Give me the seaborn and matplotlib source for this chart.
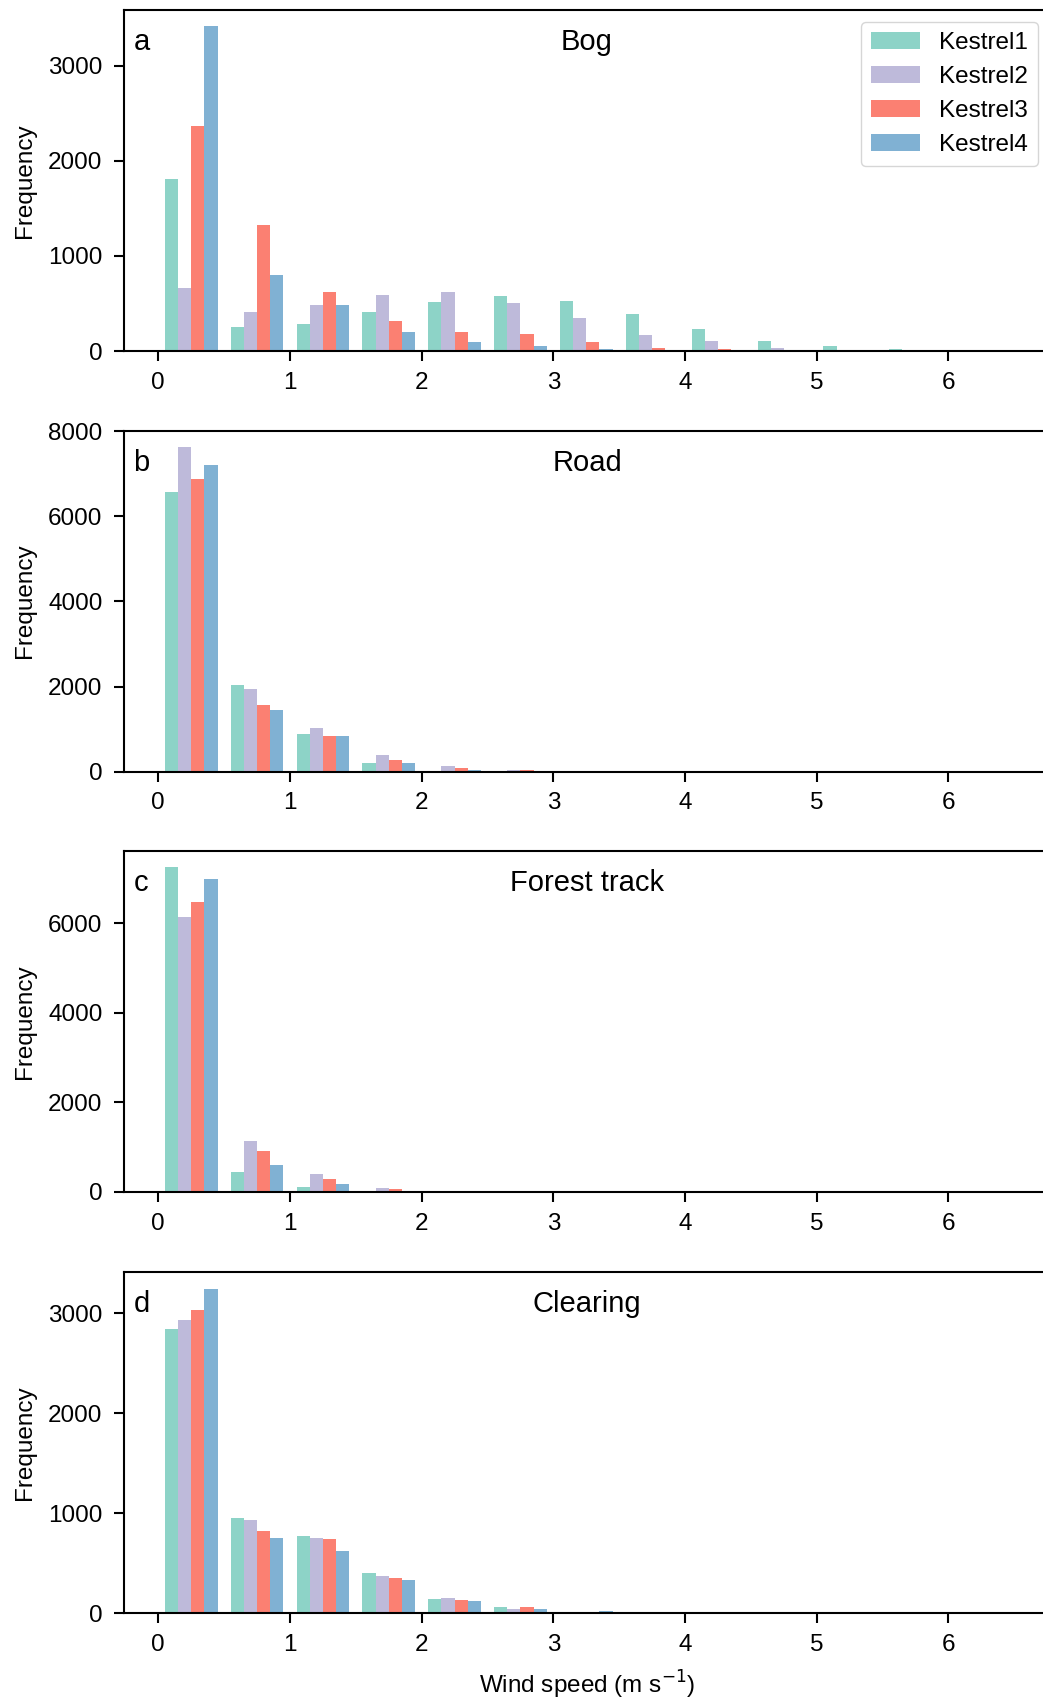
import numpy as np
import pandas as pd
import matplotlib
matplotlib.use("Agg")
import matplotlib.pyplot as plt
import seaborn as sns

# Wind-speed bins (m s-1): width 0.5 from 0 to 6.5
bin_width = 0.5
bin_range = (0.0, 6.5)
bin_centres = np.arange(bin_range[0], bin_range[1], bin_width) + bin_width / 2

sensors = ["Kestrel1", "Kestrel2", "Kestrel3", "Kestrel4"]
colours = ["#8dd3c7", "#bebada", "#fb8072", "#80b1d3"]

# Counts per bin for each sensor at each site
bog_k1 = [1811, 255, 287, 409, 514, 577, 531, 385, 231, 101, 52, 17, 8]
bog_k2 = [661, 409, 486, 591, 622, 507, 346, 171, 101, 31, 10, 3, 0]
bog_k3 = [2364, 1329, 622, 315, 196, 178, 94, 28, 17, 3, 0, 0, 0]
bog_k4 = [3413, 797, 479, 196, 94, 49, 24, 10, 3, 1, 0, 0, 0]

road_k1 = [6563, 2031, 883, 203, 23, 8, 0, 0, 0, 0, 0, 0, 0]
road_k2 = [7633, 1953, 1023, 391, 133, 47, 5, 0, 0, 0, 0, 0, 0]
road_k3 = [6883, 1555, 836, 273, 94, 39, 3, 0, 0, 0, 0, 0, 0]
road_k4 = [7211, 1445, 836, 203, 31, 5, 0, 0, 0, 0, 0, 0, 0]

forest_k1 = [7257, 439, 112, 7, 0, 0, 0, 0, 0, 0, 0, 0, 0]
forest_k2 = [6149, 1138, 394, 82, 15, 0, 0, 0, 0, 0, 0, 0, 0]
forest_k3 = [6476, 907, 290, 59, 15, 0, 0, 0, 0, 0, 0, 0, 0]
forest_k4 = [6996, 602, 178, 22, 3, 0, 0, 0, 0, 0, 0, 0, 0]

clearing_k1 = [2841, 957, 774, 399, 143, 60, 17, 2, 0, 0, 0, 0, 0]
clearing_k2 = [2934, 930, 757, 372, 150, 47, 17, 2, 0, 0, 0, 0, 0]
clearing_k3 = [3033, 827, 741, 352, 133, 60, 10, 8, 0, 0, 0, 0, 0]
clearing_k4 = [3249, 754, 621, 332, 126, 47, 20, 5, 0, 0, 0, 0, 0]

# y tick values per panel
bog_yticks = [0, 1000, 2000, 3000]
road_yticks = [0, 2000, 4000, 6000, 8000]
forest_yticks = [0, 2000, 4000, 6000]
clearing_yticks = [0, 1000, 2000, 3000]

x_ticks = [0, 1, 2, 3, 4, 5, 6]

sites = [
    ("a", "Bog", [bog_k1, bog_k2, bog_k3, bog_k4], bog_yticks),
    ("b", "Road", [road_k1, road_k2, road_k3, road_k4], road_yticks),
    ("c", "Forest track", [forest_k1, forest_k2, forest_k3, forest_k4],
     forest_yticks),
    ("d", "Clearing", [clearing_k1, clearing_k2, clearing_k3, clearing_k4],
     clearing_yticks),
]

sns.set_style("ticks")
plt.rcParams["font.family"] = ["Liberation Sans", "DejaVu Sans"]
for key in ["text.color", "axes.labelcolor", "xtick.color", "ytick.color",
            "axes.edgecolor"]:
    plt.rcParams[key] = "black"
plt.rcParams["axes.linewidth"] = 1.5

fig = plt.figure(figsize=(10.43, 17.0), dpi=100)

# axes placement [left, bottom, width, height] in figure fractions
ax_left, ax_width, ax_height = 0.1189, 0.8878, 0.2006
ax_bottoms = [0.7935, 0.5461, 0.2990, 0.0510]

fs = 17.5
for i, (letter, name, series, yticks) in enumerate(sites):
    ax = fig.add_axes([ax_left, ax_bottoms[i], ax_width, ax_height])
    df = pd.DataFrame({
        "speed": np.tile(bin_centres, len(sensors)),
        "count": np.concatenate(series).astype(float),
        "sensor": np.repeat(sensors, len(bin_centres)),
    })
    sns.histplot(
        data=df, x="speed", weights="count", hue="sensor",
        hue_order=sensors, palette=colours,
        binwidth=bin_width, binrange=bin_range,
        multiple="dodge", shrink=0.8, alpha=1, ax=ax,
        linewidth=0,
        legend=(i == 0),
    )
    ax.set_xlim(-0.2604, 6.771)
    ax.set_xticks(x_ticks)
    ax.set_yticks(yticks)
    ax.tick_params(axis="both", labelsize=fs, length=7, width=1.5)
    ax.tick_params(axis="x", pad=8)
    ax.tick_params(axis="y", pad=8.5)
    ax.set_ylabel("Frequency", fontsize=fs, labelpad=9)
    if i == 3:
        ax.set_xlabel("Wind speed (m s$^{-1}$)", fontsize=fs, labelpad=9)
    else:
        ax.set_xlabel("")
    for side in ["top", "right", "left", "bottom"]:
        ax.spines[side].set_visible(True)
        ax.spines[side].set_linewidth(1.5)
    ax.text(0.01, 0.883, letter, transform=ax.transAxes, fontsize=21,
            ha="left", va="baseline")
    ax.text(0.5, 0.883, name, transform=ax.transAxes, fontsize=21,
            ha="center", va="baseline")
    if i == 0:
        sns.move_legend(ax, "upper right", title=None, frameon=True,
                        fontsize=fs)

fig.savefig("out.png", dpi=100)
